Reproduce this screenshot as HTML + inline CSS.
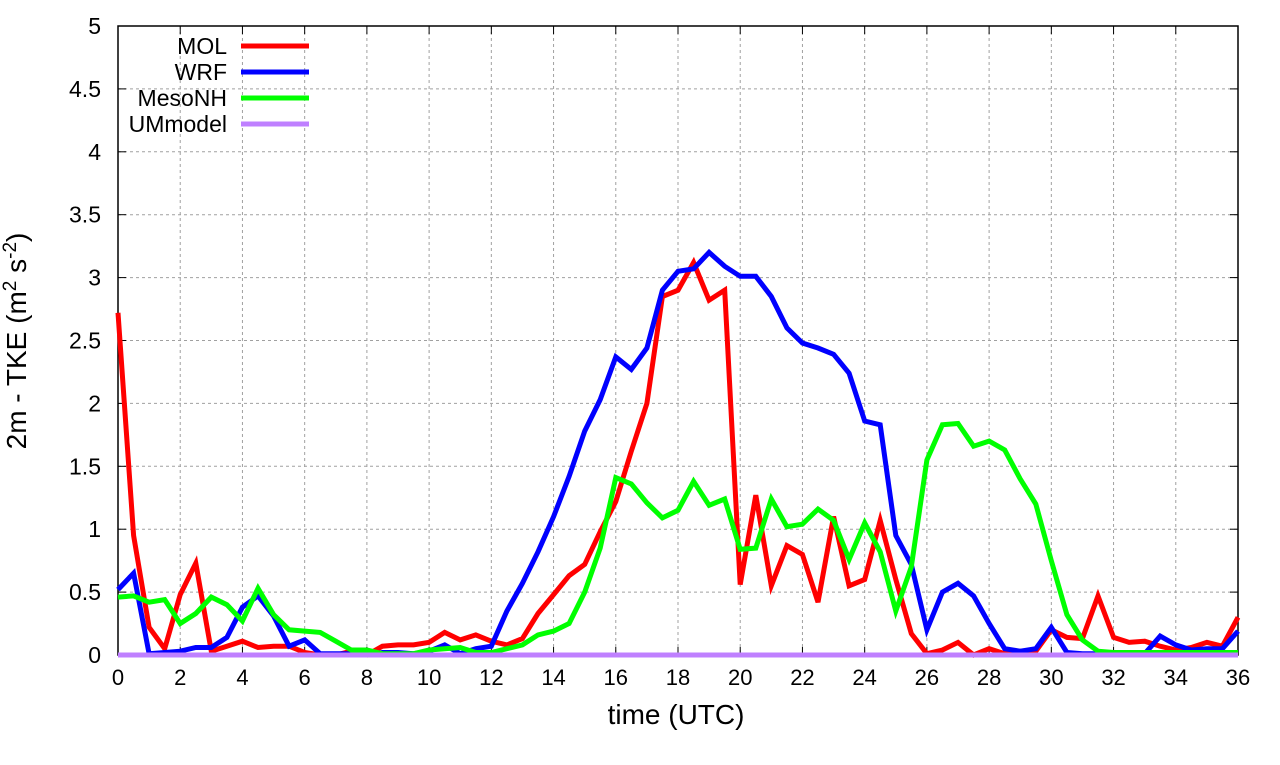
<!DOCTYPE html>
<html><head><meta charset="utf-8"><style>
body{margin:0;background:#fff;}
svg text{font-family:"Liberation Sans",sans-serif;fill:#000;}
</style></head><body>
<svg id="chart" width="1280" height="760" xmlns="http://www.w3.org/2000/svg">
<g id="grid"></g>
<g id="axes"></g>
<g id="series"></g>
<g id="legend"></g>
<text x="676" y="724" font-size="28" text-anchor="middle">time (UTC)</text>
<text transform="translate(26,341) rotate(-90)" font-size="28" text-anchor="middle">2m - TKE (m<tspan font-size="19" dy="-10">2</tspan><tspan dy="10"> s</tspan><tspan font-size="19" dy="-10">-2</tspan><tspan dy="10">)</tspan></text>
</svg>
<script>
const xTicks=[0,2,4,6,8,10,12,14,16,18,20,22,24,26,28,30,32,34,36];
const yTicks=[0,0.5,1,1.5,2,2.5,3,3.5,4,4.5,5];
const yTickLabels=["0","0.5","1","1.5","2","2.5","3","3.5","4","4.5","5"];
const times=[];for(let i=0;i<=72;i++)times.push(i*0.5);
const mol=[2.72,0.95,0.22,0.05,0.48,0.73,0.03,0.07,0.11,0.06,0.07,0.07,0.02,0,0,0.03,0,0.07,0.08,0.08,0.1,0.18,0.12,0.16,0.11,0.08,0.13,0.33,0.48,0.63,0.72,0.98,1.22,1.62,2.0,2.85,2.9,3.12,2.82,2.9,0.56,1.27,0.55,0.87,0.8,0.42,1.1,0.55,0.6,1.07,0.6,0.17,0.01,0.04,0.1,0,0.05,0.01,0.03,0.03,0.2,0.14,0.13,0.47,0.14,0.1,0.11,0.07,0.04,0.06,0.1,0.07,0.3];
const wrf=[0.52,0.65,0.01,0.02,0.03,0.06,0.06,0.14,0.38,0.47,0.31,0.07,0.12,0.01,0.01,0.01,0,0.02,0.02,0.01,0.03,0.08,0.01,0.05,0.07,0.35,0.57,0.82,1.1,1.42,1.78,2.03,2.37,2.27,2.44,2.9,3.05,3.07,3.2,3.09,3.01,3.01,2.85,2.6,2.48,2.44,2.39,2.24,1.86,1.83,0.95,0.72,0.2,0.5,0.57,0.47,0.25,0.05,0.03,0.05,0.22,0.02,0.01,0.01,0.01,0.01,0.01,0.15,0.08,0.04,0.05,0.05,0.19];
const mesonh=[0.46,0.47,0.42,0.44,0.25,0.33,0.46,0.4,0.27,0.53,0.32,0.2,0.19,0.18,0.11,0.04,0.04,0.01,0.01,0.01,0.04,0.05,0.06,0.02,0.02,0.05,0.08,0.16,0.19,0.25,0.5,0.85,1.41,1.36,1.21,1.09,1.15,1.38,1.19,1.24,0.84,0.85,1.24,1.02,1.04,1.16,1.07,0.76,1.05,0.82,0.35,0.7,1.55,1.83,1.84,1.66,1.7,1.63,1.4,1.2,0.75,0.32,0.12,0.03,0.02,0.02,0.02,0.02,0.02,0.02,0.02,0.02,0.02];
const ummodel=times.map(()=>0);
const seriesNames=["MOL","WRF","MesoNH","UMmodel"];
const seriesColors=["#ff0000","#0000ff","#00ff00","#bf80ff"];
const seriesData=[mol,wrf,mesonh,ummodel];
const L=118,R=1238,T=26,B=655;
const xs=t=>L+(t-0)/(36-0)*(R-L);
const ys=v=>B-(v/5)*(B-T);
const NS="http://www.w3.org/2000/svg";
function mk(tag,parent,attrs){const e=document.createElementNS(NS,tag);for(const k in attrs)e.setAttribute(k,attrs[k]);parent.appendChild(e);return e;}
const grid=document.getElementById('grid'),axes=document.getElementById('axes'),ser=document.getElementById('series'),leg=document.getElementById('legend');
xTicks.forEach(t=>{
 const x=xs(t);
 if(t>0&&t<36){const g=mk('line',grid,{x1:x,x2:x,y1:T,y2:B,stroke:'#a0a0a0','stroke-dasharray':'3,3','stroke-width':1});
 }
 const tk=mk('line',axes,{x1:x,x2:x,y1:B,y2:B-8,stroke:'#000'});
 
 const tk2=mk('line',axes,{x1:x,x2:x,y1:T,y2:T+8,stroke:'#000'});
 
 const lb=mk('text',axes,{x:x,y:B+30,'font-size':22,'text-anchor':'middle'});lb.textContent=t;
 
});
yTicks.forEach((v,i)=>{
 const y=ys(v);
 if(v>0&&v<5){const g=mk('line',grid,{x1:L,x2:R,y1:y,y2:y,stroke:'#a0a0a0','stroke-dasharray':'3,3','stroke-width':1});
 }
 const tk=mk('line',axes,{x1:L,x2:L+8,y1:y,y2:y,stroke:'#000'});
 
 const tk2=mk('line',axes,{x1:R,x2:R-8,y1:y,y2:y,stroke:'#000'});
 
 const lb=mk('text',axes,{x:L-17,y:y+8,'font-size':23,'text-anchor':'end'});lb.textContent=yTickLabels[i];
 
});
const fr=mk('rect',axes,{x:L,y:T,width:R-L,height:B-T,fill:'none',stroke:'#000','stroke-width':1.5});

seriesData.forEach((d,si)=>{
 const pts=d.map((v,i)=>xs(times[i]).toFixed(1)+','+ys(v).toFixed(1)).join(' ');
 const p=mk('polyline',ser,{points:pts,fill:'none',stroke:seriesColors[si],'stroke-width':5,'stroke-linejoin':'miter'});
 
 
 const ly=46+si*26;
 const t=mk('text',leg,{x:227,y:ly+8,'font-size':23,'text-anchor':'end'});t.textContent=seriesNames[si];
 
 const l=mk('line',leg,{x1:241,x2:309,y1:ly,y2:ly,stroke:seriesColors[si],'stroke-width':5});
 
});
</script>
</body></html>
